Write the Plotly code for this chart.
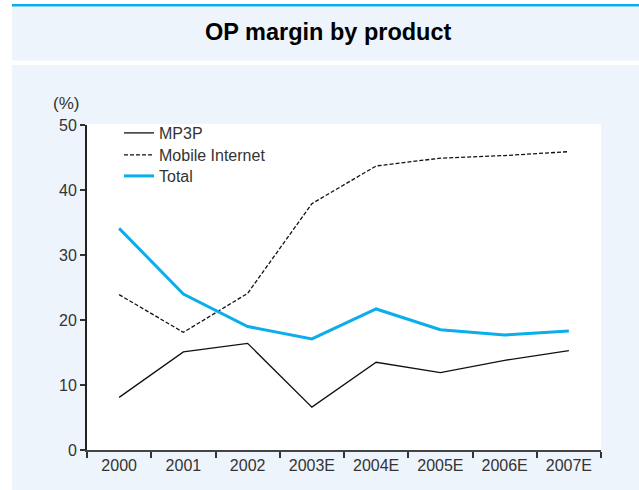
import plotly.graph_objects as go

years = ["2000", "2001", "2002", "2003E", "2004E", "2005E", "2006E", "2007E"]
mp3p = [8.1, 15.1, 16.4, 6.6, 13.5, 11.9, 13.8, 15.3]
mobile_internet = [23.9, 18.1, 24.1, 37.9, 43.7, 44.9, 45.3, 45.9]
total = [34.1, 24.0, 19.0, 17.1, 21.7, 18.5, 17.7, 18.3]
y_ticks = [0, 10, 20, 30, 40, 50]

W, H = 639, 490
L, R, T, B = 87, 601, 125, 450
PW, PH = R - L, B - T

def px(x):
    return (x - L) / PW

def py(y):
    return (B - y) / PH

PANEL = "#EEF4FB"
BLUE = "#0AAEEA"
TXT = "#333333"
FONT = "Liberation Sans, Arial, sans-serif"

fig = go.Figure()
fig.add_trace(go.Scatter(x=years, y=mp3p, name="MP3P", mode="lines", legend="legend",
                         line=dict(color="#111111", width=1.3)))
fig.add_trace(go.Scatter(x=years, y=mobile_internet, name="Mobile Internet", mode="lines",
                         legend="legend2",
                         line=dict(color="#111111", width=1.3, dash="4px,2px")))
fig.add_trace(go.Scatter(x=years, y=total, name="Total", mode="lines", legend="legend3",
                         line=dict(color=BLUE, width=3)))

shapes = [
    dict(type="rect", xref="paper", yref="paper", x0=px(12), x1=px(639), y0=py(4), y1=py(6.5),
         fillcolor=BLUE, line_width=0, layer="below"),
    dict(type="rect", xref="paper", yref="paper", x0=px(12), x1=px(639), y0=py(7), y1=py(60.5),
         fillcolor=PANEL, line_width=0, layer="below"),
    dict(type="rect", xref="paper", yref="paper", x0=px(12), x1=px(639), y0=py(65), y1=py(490),
         fillcolor=PANEL, line_width=0, layer="below"),
    dict(type="rect", xref="paper", yref="paper", x0=px(87), x1=px(601), y0=py(124), y1=py(450),
         fillcolor="white", line_width=0, layer="below"),
]

def leg(yc):
    return dict(x=px(119), y=py(yc), xanchor="left", yanchor="middle",
                bgcolor="rgba(0,0,0,0)", borderwidth=0, tracegroupgap=0,
                itemwidth=30, font=dict(size=16, color=TXT))

fig.update_layout(
    width=W, height=H,
    margin=dict(l=L, r=W - R, t=T, b=H - B, pad=0),
    paper_bgcolor="white",
    plot_bgcolor="rgba(0,0,0,0)",
    shapes=shapes,
    font=dict(family=FONT, size=16, color=TXT),
    showlegend=True,
    legend=leg(133),
    legend2=leg(155),
    legend3=leg(176),
    annotations=[
        dict(text="<b>OP margin by product</b>", xref="paper", yref="paper",
             x=px(328), y=py(32), xanchor="center", yanchor="middle", showarrow=False,
             font=dict(family=FONT, size=23.5, color="#000000")),
        dict(text="(%)", xref="paper", yref="paper", x=px(81), y=py(103),
             xanchor="right", yanchor="middle", showarrow=False,
             font=dict(size=17, color=TXT)),
    ],
)

fig.update_xaxes(type="category", range=[-0.5, 7.5], tickson="boundaries",
                 ticks="outside", ticklen=6, tickwidth=1.5, tickcolor="#333333",
                 showline=True, linecolor="#444444", linewidth=2,
                 showgrid=False, zeroline=False,
                 tickfont=dict(size=16, color=TXT))
fig.update_yaxes(range=[0, 50], tickvals=y_ticks,
                 ticks="outside", ticklen=5, tickwidth=1.5, tickcolor="#333333",
                 showline=True, linecolor="#222222", linewidth=2,
                 showgrid=False, zeroline=False,
                 tickfont=dict(size=16, color=TXT))

fig.write_html("out.html")
